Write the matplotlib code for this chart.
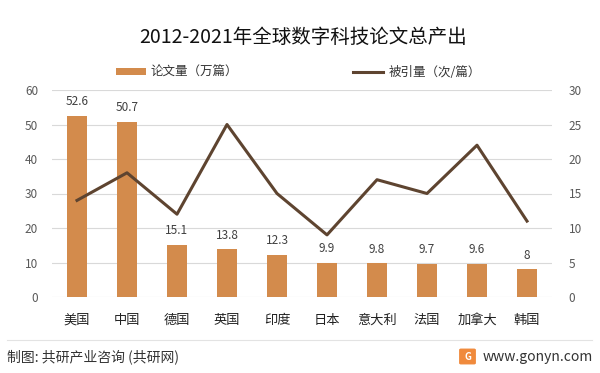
import matplotlib
matplotlib.use("Agg")
import matplotlib.pyplot as plt
from matplotlib.patches import FancyBboxPatch
import numpy as np

plt.rcParams["font.family"] = ["Noto Sans CJK SC", "DejaVu Sans"]

laender = ["美国", "中国", "德国", "英国", "印度", "日本", "意大利", "法国", "加拿大", "韩国"]
lunwen = [52.6, 50.7, 15.1, 13.8, 12.3, 9.9, 9.8, 9.7, 9.6, 8]
beiyin = [14, 18, 12, 25, 15, 9, 17, 15, 22, 11]
links_ticks = [0, 10, 20, 30, 40, 50, 60]
rechts_ticks = [0, 5, 10, 15, 20, 25, 30]

farbe_balken = "#D38B4C"
farbe_linie = "#5E4430"
farbe_text = "#595959"

fig = plt.figure(figsize=(6, 3.73), dpi=100)
ax = fig.add_axes([52 / 600, 1 - 297 / 373, 500 / 600, 207 / 373])
ax2 = ax.twinx()

x = np.arange(len(laender))
balken = ax.bar(x, lunwen, width=0.4, color=farbe_balken, label="论文量（万篇）", zorder=2)
for xi, wert in zip(x, lunwen):
    ax.text(xi, wert + 2.2, f"{wert:g}", ha="center", va="bottom", fontsize=8.5, color="#404040")

linie, = ax2.plot(x, beiyin, color=farbe_linie, lw=2.2, label="被引量（次/篇）", zorder=3)

ax.set_xlim(-0.5, len(laender) - 0.5)
ax.set_ylim(0, 60)
ax2.set_ylim(0, 30)
ax.set_yticks(links_ticks)
ax2.set_yticks(rechts_ticks)
ax.set_xticks(x)
ax.set_xticklabels(laender)
ax.yaxis.grid(True, color="#D9D9D9", lw=0.8, zorder=0)
ax.set_axisbelow(True)
for a in (ax, ax2):
    for s in a.spines.values():
        s.set_visible(False)
    a.tick_params(length=0, labelsize=8.5, labelcolor=farbe_text)
ax.tick_params(axis="y", pad=10)
ax2.tick_params(axis="y", pad=12)
ax.tick_params(axis="x", pad=12, labelcolor="#222222", labelsize=9.5)

fig.text(0.505, 1 - 37 / 373, "2012-2021年全球数字科技论文总产出", ha="center", va="center",
         fontsize=14, color="#111111")
fig.legend([balken, linie], ["论文量（万篇）", "被引量（次/篇）"], loc="center",
           bbox_to_anchor=(0.497, 1 - 72 / 373), ncol=2, frameon=False, fontsize=9,
           handlelength=2.4, handleheight=0.5, handletextpad=0.4, columnspacing=9.2,
           labelcolor="#333333")

fig.add_artist(plt.Line2D([7 / 600, 592 / 600], [1 - 340 / 373, 1 - 340 / 373],
                          color="#E3E3E3", lw=0.8, transform=fig.transFigure))
fig.text(7 / 600, 1 - 357 / 373, "制图: 共研产业咨询 (共研网)", ha="left", va="center",
         fontsize=10, color="#333333")
logo = FancyBboxPatch((461 / 600, 1 - 363 / 373), 13 / 600, 13 / 373,
                      boxstyle="round,pad=0.002", color="#F08A3C", transform=fig.transFigure)
fig.add_artist(logo)
fig.text(467.5 / 600, 1 - 356.5 / 373, "G", ha="center", va="center", fontsize=7,
         color="white", fontweight="bold")
fig.text(593 / 600, 1 - 357 / 373, "www.gonyn.com", ha="right", va="center",
         fontsize=10, color="#333333")

fig.savefig("out.png", dpi=100)
